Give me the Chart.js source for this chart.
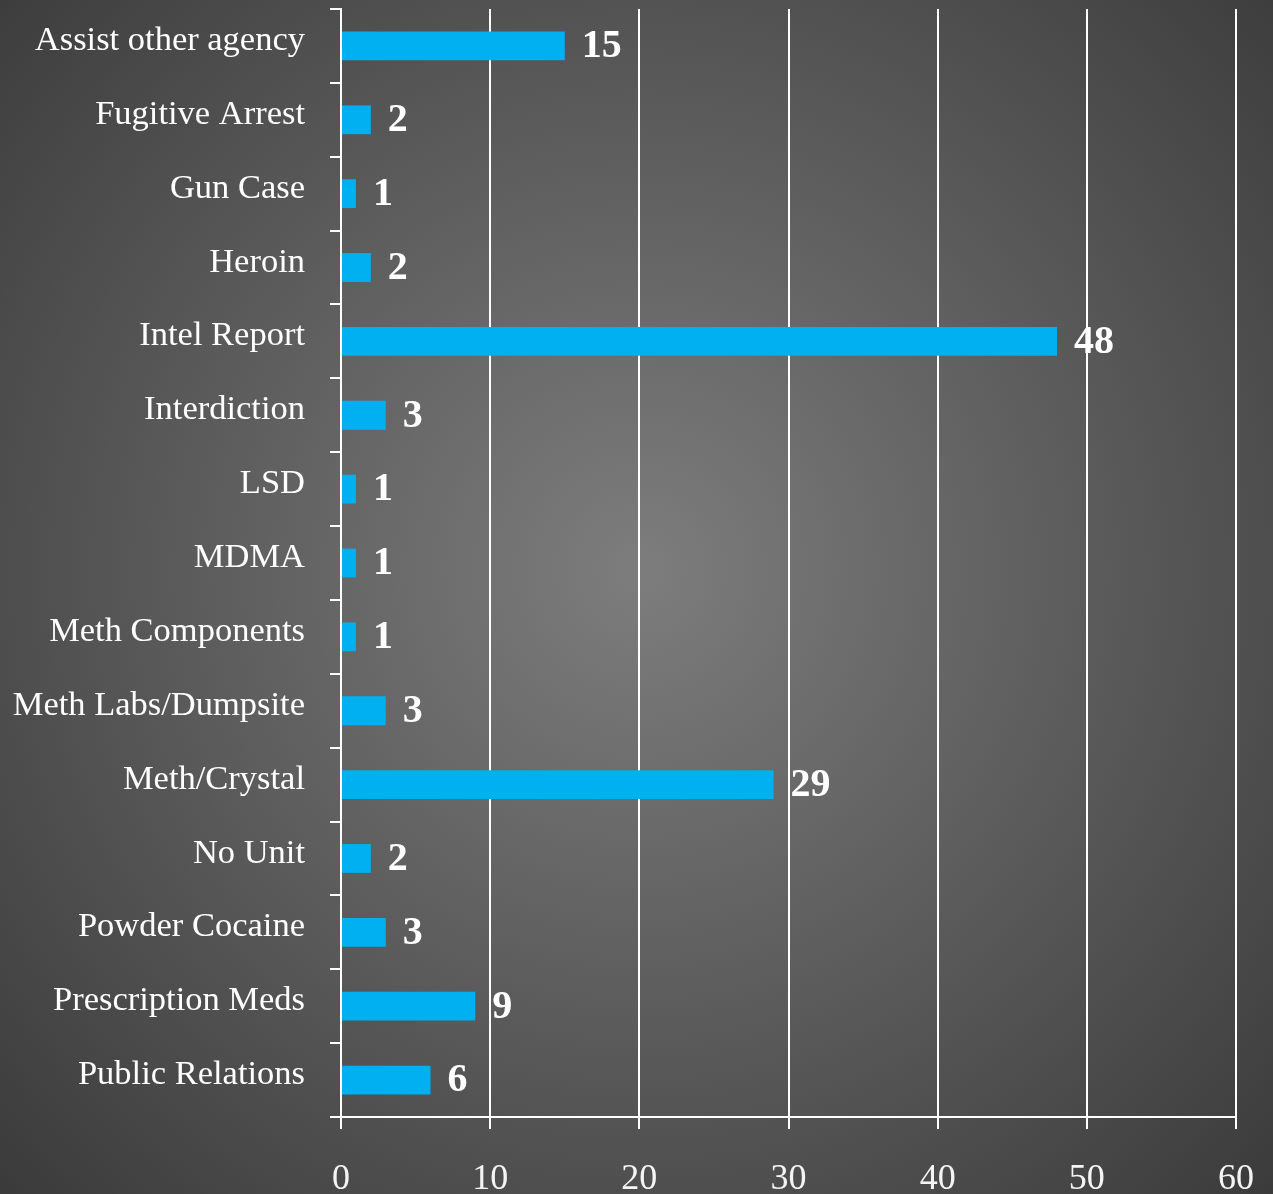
<!DOCTYPE html>
<html>
<head>
<meta charset="utf-8">
<title>Cases by Type</title>
<script src="https://cdn.jsdelivr.net/npm/chart.js@4.4.1/dist/chart.umd.min.js"></script>
<style>
  html, body { margin: 0; padding: 0; background: #555; }
  #chart { display: block; }
</style>
</head>
<body>
<canvas id="chart" width="1273" height="1194"></canvas>
<script>
const categories = [
  'Assist other agency', 'Fugitive Arrest', 'Gun Case', 'Heroin', 'Intel Report',
  'Interdiction', 'LSD', 'MDMA', 'Meth Components', 'Meth Labs/Dumpsite',
  'Meth/Crystal', 'No Unit', 'Powder Cocaine', 'Prescription Meds', 'Public Relations'
];
const caseCounts = [15, 2, 1, 2, 48, 3, 1, 1, 1, 3, 29, 2, 3, 9, 6];
const axisMin = 0;
const axisMax = 60;
const axisStep = 10;

const serif = '"Liberation Serif", "DejaVu Serif", serif';

// dark radial backdrop, lighter in the middle
const backdrop = {
  id: 'backdrop',
  beforeDraw(chart) {
    const { ctx, width, height } = chart;
    const g = ctx.createRadialGradient(640, 570, 0, 640, 570, 900);
    g.addColorStop(0, '#7d7d7d');
    g.addColorStop(1, '#3a3a3a');
    ctx.save();
    ctx.fillStyle = g;
    ctx.fillRect(0, 0, width, height);
    ctx.restore();
  }
};

// category names, sitting a little above each band's middle
const categoryLabels = {
  id: 'categoryLabels',
  afterDraw(chart) {
    const { ctx } = chart;
    const y = chart.scales.y;
    ctx.save();
    ctx.font = '34.5px ' + serif;
    ctx.fillStyle = '#ffffff';
    ctx.textAlign = 'right';
    ctx.textBaseline = 'middle';
    categories.forEach((name, i) => {
      ctx.fillText(name, y.right - 36, y.getPixelForValue(i) - 5);
    });
    ctx.restore();
  }
};

// value printed just past the end of each bar
const barValues = {
  id: 'barValues',
  afterDatasetsDraw(chart) {
    const { ctx } = chart;
    const meta = chart.getDatasetMeta(0);
    ctx.save();
    ctx.font = 'bold 40px ' + serif;
    ctx.fillStyle = '#ffffff';
    ctx.textAlign = 'left';
    ctx.textBaseline = 'middle';
    meta.data.forEach((bar, i) => {
      ctx.fillText(String(caseCounts[i]), bar.x + 17, bar.y + 1);
    });
    ctx.restore();
  }
};

new Chart(document.getElementById('chart'), {
  type: 'bar',
  data: {
    labels: categories,
    datasets: [{
      data: caseCounts,
      backgroundColor: '#00b0f0',
      borderWidth: 0,
      categoryPercentage: 1,
      barPercentage: 0.39
    }]
  },
  options: {
    indexAxis: 'y',
    responsive: false,
    animation: false,
    layout: { padding: { top: 9, right: 37, left: 0, bottom: 0 } },
    plugins: {
      legend: { display: false },
      tooltip: { enabled: false }
    },
    scales: {
      x: {
        min: axisMin,
        max: axisMax,
        afterFit(scale) {
          scale.height = 77;
          scale.paddingLeft = 0;
          scale.paddingRight = 0;
        },
        ticks: {
          stepSize: axisStep,
          color: '#f4f4f4',
          padding: 29,
          font: { family: serif, size: 36 }
        },
        grid: {
          color: '#ffffff',
          lineWidth: 2,
          tickLength: 12
        },
        border: { color: '#ffffff', width: 2 }
      },
      y: {
        afterFit(scale) {
          scale.width = 341;
          scale.paddingTop = 0;
          scale.paddingBottom = 0;
        },
        ticks: { display: false },
        grid: {
          offset: true,
          drawOnChartArea: false,
          color: '#ffffff',
          lineWidth: 2,
          tickLength: 11
        },
        border: { color: '#ffffff', width: 2 }
      }
    }
  },
  plugins: [backdrop, categoryLabels, barValues]
});
</script>
</body>
</html>
